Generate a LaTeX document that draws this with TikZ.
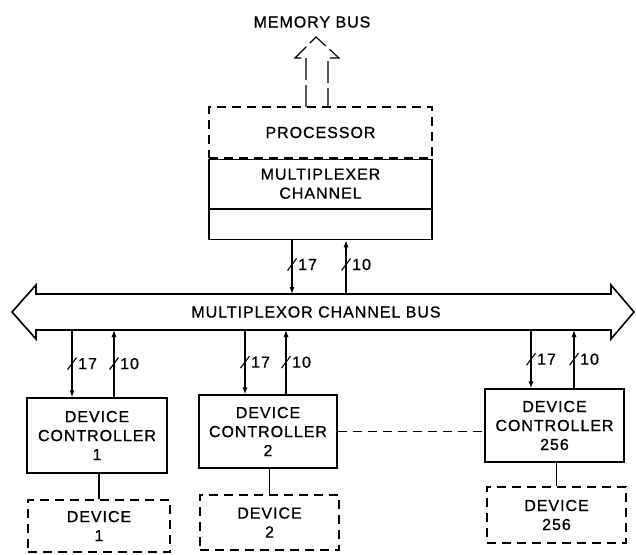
\documentclass[tikz,border=0pt]{standalone}
\usepackage{fontspec}
\setmainfont{Liberation Sans}[LetterSpace=6,FakeBold=0.8]
\usetikzlibrary{arrows.meta,positioning,calc}

\tikzset{
	box/.style={draw,line width=1.4pt,align=center,inner sep=0pt},
	dashbox/.style={box,line width=1.1pt,dash pattern=on 9pt off 6pt},
	wire/.style={line width=1.1pt},
	tip/.style={-{Latex[length=7pt,width=5pt]}},
}

% slash across a wire, with the wire width beside it
\newcommand{\wirewidth}[3]{
	\draw[wire] ([shift={(-4.5,6)}]#1) -- ([shift={(4.5,-6)}]#1);
	\node[anchor=west,inner sep=0pt] (#3) at ([xshift=6pt]#1) {#2};
}

\begin{document}
\begin{tikzpicture}[x=1pt,y=-1pt,font=\fontsize{16}{19}\selectfont]

	\useasboundingbox (0,0) rectangle (636,554);
	%\draw[help lines,step=50] (0,0) grid (636,554);

	\def\bustop{294}
	\def\busbot{330}

	% memory bus
	\node (membus) at (312,22) {MEMORY BUS};
	\draw[wire,dash pattern=on 22pt off 5pt] (306,107) -- (306,58) -- (295,58) -- (316,37)
		-- (339,58) -- (328,58) -- (328,107);

	% processor and channel
	\node[dashbox,minimum width=223pt,minimum height=51pt] (proc) at (320.5,132.5) {PROCESSOR};
	\node[box,minimum width=223pt,minimum height=49pt,anchor=north] (mux) at (proc.south) {MULTIPLEXER\\CHANNEL};
	\node[box,minimum width=223pt,minimum height=30pt,anchor=north] (muxlow) at (mux.south) {};

	% channel bus
	\draw[line width=1.6pt] (36,\bustop) -- (611,\bustop) -- (611,285) -- (634,312) -- (611,339)
		-- (611,\busbot) -- (36,\busbot) -- (36,339) -- (12,312) -- (36,285) -- cycle;
	\node (busname) at (316,312) {MULTIPLEXOR CHANNEL BUS};

	\coordinate (p17) at (292,\bustop);
	\coordinate (p10) at (346,\bustop);
	\draw[wire,tip] (muxlow.south -| p17) -- (p17);
	\draw[wire,tip] (p10) -- (muxlow.south -| p10);
	\wirewidth{$(muxlow.south -| p17)!.45!(p17)$}{17}{p17l}
	\wirewidth{$(muxlow.south -| p10)!.45!(p10)$}{10}{p10l}

	% device controllers
	\node[box,minimum width=140pt,minimum height=75pt] (ctl1) at (97,435.5) {DEVICE\\CONTROLLER\\1};
	\node[box,minimum width=138pt,minimum height=73pt] (ctl2) at (268,431.5) {DEVICE\\CONTROLLER\\2};
	\node[box,minimum width=139pt,minimum height=73pt] (ctl3) at (554.5,425.5) {DEVICE\\CONTROLLER\\256};

	\foreach \c/\xa/\xb in {ctl1/72/114, ctl2/245/286, ctl3/531/574} {
		\coordinate (\c-a) at (\xa,\busbot);
		\coordinate (\c-b) at (\xb,\busbot);
		\draw[wire,tip] (\c-a) -- (\c.north -| \c-a);
		\draw[wire,tip] (\c.north -| \c-b) -- (\c-b);
		\wirewidth{$(\c-a)!.5!(\c.north -| \c-a)$}{17}{\c-al}
		\wirewidth{$(\c-b)!.5!(\c.north -| \c-b)$}{10}{\c-bl}
	}

	\draw[wire,dash pattern=on 9pt off 6pt] (ctl2.east) -- (ctl2.east -| ctl3.west);

	% devices
	\node[dashbox,minimum width=142pt,minimum height=52pt] (dev1) at (99,526) {DEVICE\\1};
	\node[dashbox,minimum width=139pt,minimum height=55pt] (dev2) at (269.5,522.5) {DEVICE\\2};
	\node[dashbox,minimum width=139pt,minimum height=56pt] (dev3) at (556.5,515) {DEVICE\\256};

	\foreach \n in {1,2,3} {
		\draw[wire] (dev\n.north) -- (dev\n.north |- ctl\n.south);
	}

\end{tikzpicture}
\end{document}
